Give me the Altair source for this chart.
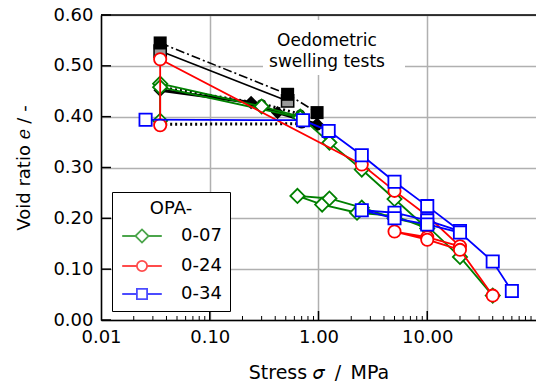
import altair as alt
import pandas as pd

# ---------------- data ----------------
series_names = ["0-07", "0-24", "0-34"]
series_colors = ["#008000", "#ff0000", "#0000ff"]

# OPA 0-07 (green diamonds)
g_stress = [0.035, 0.035, 0.30, 0.68, 1.26, 2.5, 5.0, 10.0, 5.0, 2.26, 1.08, 0.64, 1.26, 2.5, 5.0, 10.0, 20.0, 40.0]
g_e      = [0.392, 0.465, 0.420, 0.400, 0.349, 0.296, 0.238, 0.180, 0.205, 0.211, 0.227, 0.244, 0.239, 0.221, 0.200, 0.185, 0.124, 0.048]
g2_stress = [0.035, 0.68]
g2_e      = [0.458, 0.398]

# OPA 0-24 (red circles)
r_stress = [0.035, 0.035, 2.5, 5.0, 10.0, 20.0, 10.0, 5.0, 10.0, 20.0, 40.0]
r_e      = [0.383, 0.513, 0.306, 0.254, 0.205, 0.145, 0.163, 0.174, 0.158, 0.138, 0.048]

# OPA 0-34 (blue squares)
b_stress = [0.0257, 0.72, 1.24, 2.5, 5.0, 10.0, 20.0, 10.0, 5.0, 2.5, 5.0, 10.0, 20.0, 40.0, 60.0]
b_e      = [0.394, 0.393, 0.372, 0.324, 0.272, 0.224, 0.175, 0.196, 0.211, 0.216, 0.200, 0.188, 0.172, 0.115, 0.057]

# Oedometric swelling tests (black)
k1_stress = [0.035, 0.52, 0.97]
k1_e      = [0.545, 0.444, 0.408]
k2_stress = [0.035, 0.52]
k2_e      = [0.529, 0.431]
k3_stress = [0.035, 0.24, 0.42, 0.97]
k3_e      = [0.452, 0.428, 0.408, 0.385]
k4a_stress = [0.035, 0.30, 0.68]
k4a_e      = [0.458, 0.425, 0.405]
k4b_stress = [0.035, 0.70, 0.97]
k4b_e      = [0.385, 0.386, 0.382]

x_tick_values = [0.01, 0.1, 1, 10]
x_major_inner = [0.1, 1, 10]
x_minor_ticks = [m * d for d in [0.01, 0.1, 1, 10] for m in range(2, 10)]
y_tick_values = [0.0, 0.1, 0.2, 0.3, 0.4, 0.5, 0.6]
annotation_lines = ["Oedometric", "swelling tests"]

# ---------------- helpers ----------------
def frame(xs, ys, path="p"):
    return pd.DataFrame({"stress": xs, "e": ys, "idx": list(range(len(xs))), "path": path})

W, H = 435, 305
FONT = "DejaVu Sans"
FS = 18

xscale = alt.Scale(type="log", domain=[0.01, 100])
yscale = alt.Scale(domain=[0, 0.6])
xaxis = alt.Axis(values=x_tick_values, format=".2f", title="Stress 𝜎\u2002/\u2002MPa",
                 grid=True, gridColor="#b0b0b0", gridWidth=1.5, ticks=False,
                 domainColor="black", domainWidth=1.5, labelFontSize=FS, labelFont=FONT,
                 labelColor="black", labelPadding=8, labelFlush=False, labelOverlap=False,
                 titleFontSize=19, titleFont=FONT, titleFontWeight="normal", titleColor="black",
                 titlePadding=17)
yaxis = alt.Axis(values=y_tick_values, format=".2f", title="Void ratio 𝑒 / -",
                 grid=True, gridColor="#b0b0b0", gridWidth=1.5, ticks=False,
                 domainColor="black", domainWidth=1.5, labelFontSize=FS, labelFont=FONT,
                 labelColor="black", labelPadding=8, labelFlush=False, labelOverlap=False,
                 titleFontSize=FS, titleFont=FONT, titleFontWeight="normal", titleColor="black",
                 titlePadding=19)

X = alt.X("stress:Q", scale=xscale, axis=xaxis)
Y = alt.Y("e:Q", scale=yscale, axis=yaxis)


def lines(df, **kw):
    return alt.Chart(df).mark_line(clip=True, **kw).encode(x=X, y=Y, detail="path:N", order="idx:Q")


def points(df, **kw):
    return alt.Chart(df).mark_point(clip=True, opacity=1, **kw).encode(x=X, y=Y)


layers = []

# annotation background box
box = alt.Chart(pd.DataFrame({"a": [0]})).mark_rect(fill="white").encode(
    x=alt.value(162), x2=alt.value(304), y=alt.value(5), y2=alt.value(60))
layers.append(box)

# black oedometric series
k1 = frame(k1_stress, k1_e)
k2 = frame(k2_stress, k2_e)
k3 = frame(k3_stress, k3_e)
k4 = pd.concat([frame(k4a_stress, k4a_e, "a"), frame(k4b_stress, k4b_e, "b")])
layers += [
    lines(k1, color="black", strokeWidth=1.6, strokeDash=[9, 3, 2, 3]),
    lines(k2, color="black", strokeWidth=1.6),
    lines(k3, color="black", strokeWidth=3),
    lines(k4, color="black", strokeWidth=3, strokeDash=[2, 3]),
    points(k4, shape="circle", filled=True, color="black", size=90),
    points(k3, shape="diamond", filled=True, color="black", size=180),
    points(k2, shape="square", filled=True, fill="#9a9a9a", stroke="black", strokeWidth=1.5, size=150),
    points(k1, shape="square", filled=True, color="black", size=170),
]

# colored series
g = pd.concat([frame(g_stress, g_e, "a"), frame(g2_stress, g2_e, "b")])
r = frame(r_stress, r_e)
b = frame(b_stress, b_e)
for df, col, shp, sz in [(g, series_colors[0], "diamond", 200),
                         (r, series_colors[1], "circle", 150),
                         (b, series_colors[2], "square", 150)]:
    layers.append(lines(df, color=col, strokeWidth=1.8))
    layers.append(points(df, shape=shp, filled=True, fill="white", stroke=col, strokeWidth=1.8, size=sz))

# inward ticks
layers.append(alt.Chart(pd.DataFrame({"e": y_tick_values})).mark_rule(color="black", strokeWidth=1.5).encode(
    y=Y, x=alt.value(0), x2=alt.value(10)))
layers.append(alt.Chart(pd.DataFrame({"stress": x_major_inner})).mark_rule(color="black", strokeWidth=1.5).encode(
    x=X, y=alt.value(H - 9), y2=alt.value(H)))
layers.append(alt.Chart(pd.DataFrame({"stress": x_minor_ticks})).mark_rule(color="black", strokeWidth=1).encode(
    x=X, y=alt.value(H - 4), y2=alt.value(H)))
# top spine
layers.append(alt.Chart(pd.DataFrame({"a": [0]})).mark_rule(color="black", strokeWidth=1.5).encode(
    x=alt.value(0), x2=alt.value(W), y=alt.value(0)))

# annotation text
ann = pd.DataFrame({"t": annotation_lines, "py": [26, 47]})
layers.append(alt.Chart(ann).mark_text(font=FONT, fontSize=17, color="black", align="center", baseline="middle").encode(
    text="t:N", x=alt.value(226), y=alt.Y("py:Q", scale=None)))

# legend (dummy layer outside the domain)
legend_paths = [
    "M-3.3,0H-1.1M-1.1,0L0,-1.1L1.1,0L0,1.1ZM1.1,0H3.3",
    "M-3.3,0H-0.85M-0.85,0A0.85,0.85,0,1,1,0.85,0A0.85,0.85,0,1,1,-0.85,0ZM0.85,0H3.3",
    "M-3.3,0H-0.85M-0.85,-0.85H0.85V0.85H-0.85ZM0.85,0H3.3",
]
leg = alt.Legend(title="OPA-", orient="none", legendX=11, legendY=177, strokeColor="black",
                 fillColor="white", padding=8, cornerRadius=0, titleFontSize=FS, labelFontSize=FS,
                 titleFont=FONT, labelFont=FONT, titleFontWeight="normal", titleColor="black",
                 labelColor="black", titleAnchor="middle", symbolSize=144, symbolStrokeWidth=1.8,
                 symbolOffset=13, labelOffset=30, rowPadding=10, titlePadding=9)
legend_df = pd.DataFrame({"series": series_names, "stress": [1e-6] * 3, "e": [0.3] * 3})
layers.append(alt.Chart(legend_df).mark_point(clip=True, filled=False, strokeWidth=1.8).encode(
    x=X, y=Y,
    color=alt.Color("series:N", scale=alt.Scale(domain=series_names, range=series_colors), legend=leg),
    shape=alt.Shape("series:N", scale=alt.Scale(domain=series_names, range=legend_paths), legend=leg),
))

chart = alt.layer(*layers).properties(
    width=W, height=H,
    autosize=alt.AutoSizeParams(type="none"),
    padding={"left": 101, "top": 15, "right": 0, "bottom": 64},
).configure_view(stroke=None)

chart.save("out.html", embed_options={"renderer": "svg", "actions": False})
